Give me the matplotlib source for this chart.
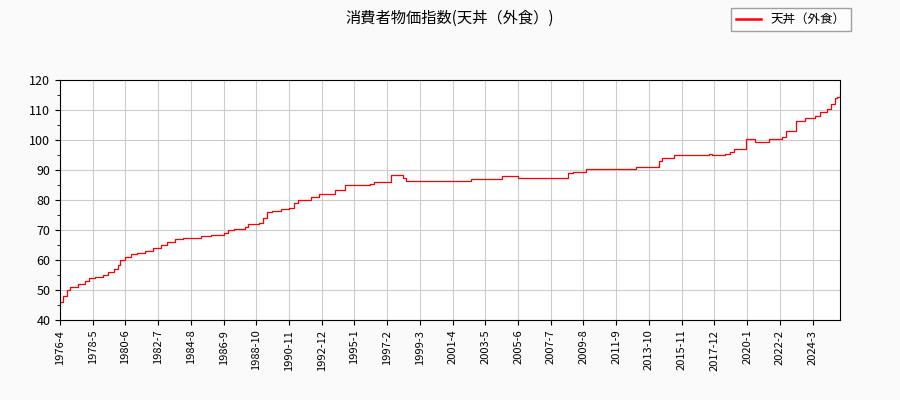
import numpy as np
import matplotlib.pyplot as plt

plt.rcParams['font.family'] = ['Noto Sans CJK JP', 'DejaVu Sans']

# months since 1976-4 where the index changes, and the new value
months = [0, 2, 5, 8, 14, 19, 22, 27, 33, 37, 41, 44, 46, 50, 54, 59, 65, 71, 77, 82,
          88, 94, 108, 115, 125, 128, 133, 141, 144, 152, 155, 158, 162, 169, 175, 179,
          182, 192, 198, 210, 218, 237, 240, 253, 262, 264, 268, 314, 338, 350, 388, 392,
          402, 440, 458, 460, 469, 496, 498, 508, 512, 515, 522, 524, 531, 532, 542, 552,
          555, 562, 569, 577, 581, 586, 589, 592, 594, 596]
values = [46, 48, 50, 51, 52, 53, 54, 54.5, 55, 56, 57, 58.5, 60, 61, 62, 62.5, 63, 64, 65, 66,
          67, 67.5, 68, 68.5, 69, 70, 70.5, 71, 72, 72.5, 74, 76, 76.5, 77, 77.5, 79,
          80, 81, 82, 83.5, 85, 85.5, 86, 88.5, 87.5, 86.5, 86.5, 87, 88, 87.5, 89, 89.5,
          90.5, 91, 93, 94, 95, 95.5, 95, 95.5, 96, 97, 97, 100.5, 99.5, 99.5, 100.5, 101,
          103, 106.5, 107.5, 108, 109.5, 110.5, 112, 114, 114.5, 115]
tick_labels = ["1976-4", "1978-5", "1980-6", "1982-7", "1984-8", "1986-9", "1988-10",
               "1990-11", "1992-12", "1995-1", "1997-2", "1999-3", "2001-4", "2003-5",
               "2005-6", "2007-7", "2009-8", "2011-9", "2013-10", "2015-11", "2017-12",
               "2020-1", "2022-2", "2024-3"]

fig = plt.figure(figsize=(9, 4), dpi=100, facecolor="#fafafa")
ax = fig.add_axes([60/900, 80/400, 780/900, 240/400])
ax.set_facecolor("white")
ax.step(months, values, where="post", color="red", lw=0.9, label="天丼（外食）")
ax.set_xlim(0, 596)
ax.set_ylim(40, 120)
ax.set_xticks(np.arange(len(tick_labels)) * 25)
ax.set_xticklabels(tick_labels, rotation=90, fontsize=8)
ax.set_yticks(np.arange(40, 121, 10))
ax.set_yticks(np.arange(40, 121, 5), minor=True)
ax.tick_params(axis="y", labelsize=9)
ax.grid(True, color="#cccccc", lw=0.8)
fig.text(0.5, 0.955, "消費者物価指数(天丼（外食）)", ha="center", va="center", fontsize=11)
leg = fig.legend(loc="upper right", bbox_to_anchor=(0.952, 0.995), fontsize=9,
                 frameon=True, fancybox=False, edgecolor="#888888")
for line in leg.get_lines():
    line.set_linewidth(1.8)
fig.savefig("out.png", facecolor=fig.get_facecolor())
